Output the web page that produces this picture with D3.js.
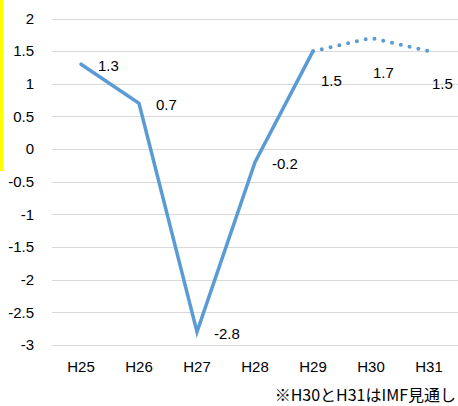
<!DOCTYPE html>
<html>
<head>
<meta charset="utf-8">
<script src="https://cdn.jsdelivr.net/npm/d3@7/dist/d3.min.js"></script>
<style>
html,body{margin:0;padding:0;background:#fff;}
svg{display:block;}
</style>
</head>
<body>
<svg id="chart" width="458" height="406"></svg>
<script>
const categories = ["H25","H26","H27","H28","H29","H30","H31"];
const actualValues = [1.3, 0.7, -2.8, -0.2, 1.5, null, null];
const forecastValues = [null, null, null, null, 1.5, 1.7, 1.5];
const yTicks = [2, 1.5, 1, 0.5, 0, -0.5, -1, -1.5, -2, -2.5, -3];
const footnote = "※H30とH31はIMF見通し";

const svg = d3.select("#chart");
const W = 458, H = 406;
const font = "'Liberation Sans', Arial, sans-serif";

// yellow marker bar at left edge
svg.append("rect").attr("x",0).attr("y",0).attr("width",3.3).attr("height",171).attr("fill","#FFFF00");

const x = d3.scaleBand().domain(categories).range([52, 458]).padding(0);
const y = d3.scaleLinear().domain([-3, 2]).range([345, 18.5]);
const cx = c => x(c) + x.bandwidth()/2;

// gridlines
svg.append("g").selectAll("line").data(yTicks).join("line")
  .attr("x1", 52).attr("x2", W)
  .attr("y1", d => Math.round(y(d)) + 0.5).attr("y2", d => Math.round(y(d)) + 0.5)
  .attr("stroke", "#d9d9d9").attr("stroke-width", 1);

// y axis labels
const yAxis = d3.axisLeft(y).tickValues(yTicks).tickSize(0).tickPadding(0)
  .tickFormat(d => String(d));
const gy = svg.append("g").attr("transform", "translate(34,0)").call(yAxis);
gy.select(".domain").remove();
gy.selectAll("text").attr("font-family", font).attr("font-size", 15).attr("fill", "#000");

// x axis labels
const xAxis = d3.axisBottom(x).tickSize(0).tickPadding(0);
const gx = svg.append("g").attr("transform", "translate(0,361)").call(xAxis);
gx.select(".domain").remove();
gx.selectAll("text").attr("font-family", font).attr("font-size", 15).attr("fill", "#000").attr("dy","0.71em");

const color = "#5B9BD5";

const actual = categories.map((c,i) => ({c, v: actualValues[i]})).filter(d => d.v !== null);
const forecast = categories.map((c,i) => ({c, v: forecastValues[i]})).filter(d => d.v !== null);

const line = d3.line().x(d => cx(d.c)).y(d => y(d.v));

svg.append("path").datum(actual).attr("d", line)
  .attr("fill","none").attr("stroke", color).attr("stroke-width", 3.5)
  .attr("stroke-linejoin","miter").attr("stroke-linecap","round");

svg.append("path").datum(forecast).attr("d", line)
  .attr("fill","none").attr("stroke", color).attr("stroke-width", 4)
  .attr("stroke-dasharray","0,9").attr("stroke-linecap","round");

// data labels
const solidLabels = actual.slice(0, 4);
svg.append("g").selectAll("text").data(solidLabels).join("text")
  .attr("x", d => cx(d.c) + 17)
  .attr("y", d => y(d.v) + 1.5)
  .attr("dy", "0.35em")
  .attr("font-family", font).attr("font-size", 15).attr("fill", "#000")
  .text(d => d.v.toFixed(1));

const fOff = [{dx: 8, dy: 30}, {dx: 2, dy: 35}, {dx: 3, dy: 33}];
svg.append("g").selectAll("text").data(forecast).join("text")
  .attr("x", (d,i) => cx(d.c) + fOff[i].dx)
  .attr("y", (d,i) => y(d.v) + fOff[i].dy)
  .attr("dy", "0.35em")
  .attr("font-family", font).attr("font-size", 15).attr("fill", "#000")
  .text(d => d.v.toFixed(1));

// footnote
svg.append("text").attr("x", 456).attr("y", 395).attr("dy","0.35em")
  .attr("text-anchor","end")
  .attr("font-family", "'Noto Sans CJK JP', sans-serif").attr("font-size", 16).attr("fill","#000")
  .text(footnote);
</script>
</body>
</html>
